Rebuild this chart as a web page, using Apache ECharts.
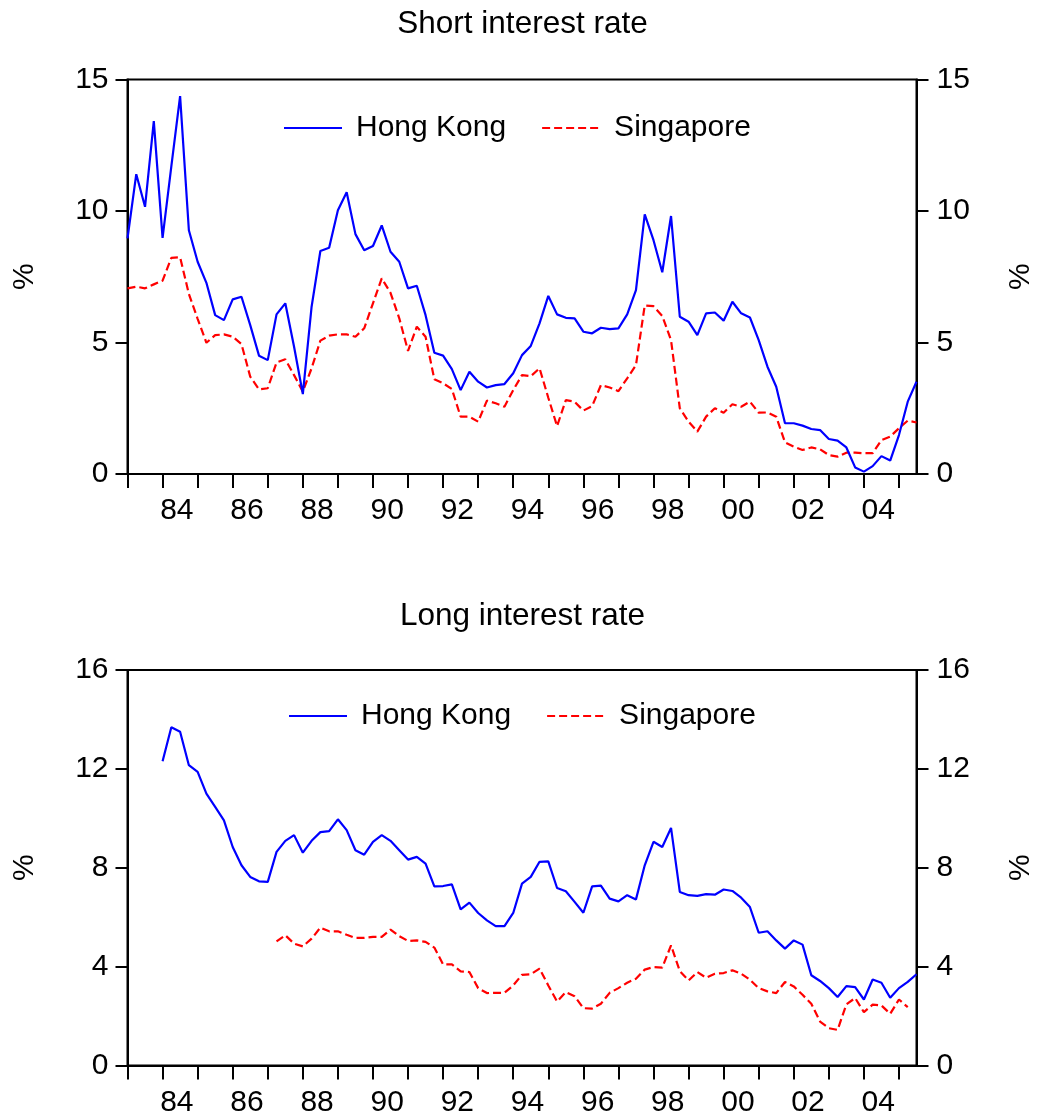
<!DOCTYPE html>
<html>
<head>
<meta charset="utf-8">
<title>Short and long interest rates: Hong Kong and Singapore</title>
<script src="https://cdn.jsdelivr.net/npm/echarts@6/dist/echarts.min.js"></script>
<style>
  html, body { margin: 0; padding: 0; background: #fff; overflow: hidden; }
  #chart { width: 1040px; height: 1119px; }
</style>
</head>
<body>
<div id="chart"></div>
<script>
// Quarterly observations, 1983Q1 to 2005Q3
const firstYear = 1983;
const quarterCount = 91;
const quarters = [];
for (let i = 0; i < quarterCount; i++) {
  quarters.push((firstYear + Math.floor(i / 4)) + 'Q' + (i % 4 + 1));
}

// Year labels shown every second year on the time axis
const yearLabels = ['84', '86', '88', '90', '92', '94', '96', '98', '00', '02', '04'];

// Short interest rate (%)
const hkShort = [
  8.96, 11.40, 10.16, 13.42, 8.98, 11.70, 14.37, 9.27, 8.07, 7.27,
  6.04, 5.85, 6.64, 6.74, 5.66, 4.50, 4.33, 6.07, 6.49, 4.84,
  3.04, 6.36, 8.48, 8.60, 10.03, 10.71, 9.12, 8.51, 8.67, 9.45,
  8.45, 8.07, 7.06, 7.16, 6.04, 4.61, 4.50, 3.99, 3.19, 3.89,
  3.51, 3.29, 3.38, 3.42, 3.83, 4.52, 4.87, 5.73, 6.77, 6.07,
  5.94, 5.92, 5.41, 5.35, 5.56, 5.51, 5.54, 6.07, 6.99, 9.87,
  8.89, 7.67, 9.81, 5.98, 5.79, 5.28, 6.11, 6.14, 5.83, 6.55,
  6.11, 5.95, 5.09, 4.08, 3.32, 1.93, 1.93, 1.84, 1.71, 1.67,
  1.33, 1.27, 1.01, 0.25, 0.09, 0.30, 0.68, 0.51, 1.48, 2.75,
  3.51
];
const sgShort = [
  7.06, 7.12, 7.06, 7.21, 7.35, 8.22, 8.24, 6.85, 5.90, 4.99,
  5.28, 5.31, 5.22, 4.94, 3.70, 3.22, 3.26, 4.24, 4.36, 3.76,
  3.13, 4.02, 5.07, 5.26, 5.31, 5.31, 5.22, 5.54, 6.49, 7.44,
  6.89, 5.92, 4.68, 5.60, 5.22, 3.60, 3.45, 3.23, 2.18, 2.18,
  1.99, 2.79, 2.69, 2.56, 3.19, 3.76, 3.72, 4.02, 2.90, 1.82,
  2.81, 2.75, 2.41, 2.58, 3.38, 3.29, 3.15, 3.64, 4.14, 6.41,
  6.38, 6.01, 5.09, 2.50, 1.99, 1.61, 2.18, 2.50, 2.33, 2.65,
  2.56, 2.75, 2.33, 2.34, 2.18, 1.20, 1.04, 0.91, 1.01, 0.94,
  0.72, 0.66, 0.81, 0.81, 0.79, 0.79, 1.29, 1.42, 1.74, 2.03,
  1.96
];

// Long interest rate (%)
const hkLong = [
  null, null, null, null,
  12.31, 13.68, 13.50, 12.15, 11.88, 11.00, 10.46, 9.92, 8.84, 8.10,
  7.63, 7.45, 7.43, 8.64, 9.09, 9.32, 8.61, 9.09, 9.44, 9.48,
  9.96, 9.52, 8.71, 8.53, 9.05, 9.32, 9.09, 8.71, 8.33, 8.44,
  8.17, 7.25, 7.26, 7.33, 6.32, 6.59, 6.17, 5.87, 5.64, 5.64,
  6.17, 7.36, 7.63, 8.24, 8.26, 7.18, 7.05, 6.62, 6.18, 7.25,
  7.28, 6.75, 6.64, 6.89, 6.72, 8.10, 9.05, 8.84, 9.61, 7.02,
  6.89, 6.86, 6.93, 6.91, 7.12, 7.06, 6.79, 6.41, 5.37, 5.43,
  5.06, 4.73, 5.06, 4.89, 3.65, 3.42, 3.13, 2.77, 3.21, 3.17,
  2.67, 3.48, 3.35, 2.74, 3.13, 3.38, 3.69
];
const sgLong = [
  null, null, null, null, null, null, null, null, null, null,
  null, null, null, null, null, null, null,
  5.02, 5.27, 4.93, 4.82, 5.13, 5.58, 5.43, 5.43, 5.29, 5.16,
  5.16, 5.20, 5.20, 5.50, 5.23, 5.04, 5.06, 5.00, 4.77, 4.09,
  4.09, 3.81, 3.78, 3.13, 2.93, 2.94, 2.94, 3.24, 3.67, 3.69,
  3.92, 3.24, 2.59, 2.97, 2.80, 2.32, 2.30, 2.50, 2.94, 3.13,
  3.35, 3.51, 3.88, 3.98, 3.96, 4.86, 3.82, 3.44, 3.78, 3.55,
  3.71, 3.74, 3.85, 3.71, 3.47, 3.13, 3.00, 2.93, 3.38, 3.20,
  2.86, 2.50, 1.78, 1.51, 1.44, 2.47, 2.73, 2.16, 2.46, 2.43,
  2.09, 2.67, 2.36, null
];

const FONT = '"Liberation Sans", Arial, Helvetica, sans-serif';
const BLACK = '#000000';

function xAxisFor(gridIndex) {
  return {
    type: 'category',
    gridIndex: gridIndex,
    data: quarters,
    boundaryGap: false,
    axisLine: { show: true, onZero: false, lineStyle: { color: BLACK, width: 2 } },
    axisTick: {
      show: true, inside: false, length: 14,
      interval: function (i) { return i % 4 === 0; },
      lineStyle: { color: BLACK, width: 2 }
    },
    axisLabel: {
      show: true,
      interval: function (i) { return i % 8 === 5; },
      formatter: function (v, i) { return yearLabels[(i - 5) / 8]; },
      margin: 22,
      padding: [0, 0, 0, 11],
      color: BLACK, fontFamily: FONT, fontSize: 30
    },
    splitLine: { show: false }
  };
}

function yAxisFor(gridIndex, position, maxVal, step) {
  const right = position === 'right';
  return {
    type: 'value',
    gridIndex: gridIndex,
    position: position,
    min: 0, max: maxVal, interval: step,
    name: '%',
    nameLocation: 'middle',
    nameRotate: 90,
    nameGap: right ? 89 : 88,
    nameTextStyle: { color: BLACK, fontFamily: FONT, fontSize: 30 },
    axisLine: { show: true, onZero: false, lineStyle: { color: BLACK, width: 2 } },
    axisTick: { show: true, inside: false, length: 12, lineStyle: { color: BLACK, width: 2 } },
    axisLabel: {
      margin: right ? 20 : 19,
      padding: [0, 0, 7, 0],
      color: BLACK, fontFamily: FONT, fontSize: 30
    },
    splitLine: { show: false }
  };
}

function lineSeries(name, data, xi, yi, color, dashed) {
  return {
    type: 'line',
    name: name,
    data: data,
    xAxisIndex: xi,
    yAxisIndex: yi,
    symbol: 'none',
    showSymbol: false,
    connectNulls: false,
    color: color,
    lineStyle: { color: color, width: 2.2, type: dashed ? [8, 4] : 'solid' },
    emphasis: { disabled: true },
    z: dashed ? 3 : 4
  };
}

function legendFor(left, top) {
  return {
    left: left, top: top,
    padding: 0,
    orient: 'horizontal',
    itemWidth: 58, itemHeight: 14, itemGap: 35,
    selectedMode: false,
    data: ['Hong Kong', 'Singapore'],
    itemStyle: { opacity: 0, color: 'rgba(0,0,0,0)', borderWidth: 0 },
    textStyle: { color: BLACK, fontFamily: FONT, fontSize: 30, padding: [0, 0, 0, 9] }
  };
}

function gridAt(top, height) {
  return {
    left: 127.5, top: top, width: 789, height: height,
    show: true, borderColor: BLACK, borderWidth: 2,
    containLabel: false,
    outerBoundsMode: 'none'
  };
}

const chart = echarts.init(document.getElementById('chart'), null, { renderer: 'canvas' });

chart.setOption({
  backgroundColor: '#ffffff',
  animation: false,
  title: [
    {
      text: 'Short interest rate', left: 522.5, top: 8, padding: 0, textAlign: 'center',
      textStyle: { color: BLACK, fontFamily: FONT, fontSize: 31.5, fontWeight: 'normal' }
    },
    {
      text: 'Long interest rate', left: 522.5, top: 600, padding: 0, textAlign: 'center',
      textStyle: { color: BLACK, fontFamily: FONT, fontSize: 31.5, fontWeight: 'normal' }
    }
  ],
  legend: [legendFor(283, 113), legendFor(288, 701)],
  grid: [gridAt(79.5, 394.5), gridAt(670, 395.5)],
  xAxis: [xAxisFor(0), xAxisFor(1)],
  yAxis: [
    yAxisFor(0, 'left', 15, 5),
    yAxisFor(0, 'right', 15, 5),
    yAxisFor(1, 'left', 16, 4),
    yAxisFor(1, 'right', 16, 4)
  ],
  series: [
    lineSeries('Hong Kong', hkShort, 0, 0, '#0000FF', false),
    lineSeries('Singapore', sgShort, 0, 0, '#FF0000', true),
    lineSeries('Hong Kong', hkLong, 1, 2, '#0000FF', false),
    lineSeries('Singapore', sgLong, 1, 2, '#FF0000', true)
  ]
});
</script>
</body>
</html>
